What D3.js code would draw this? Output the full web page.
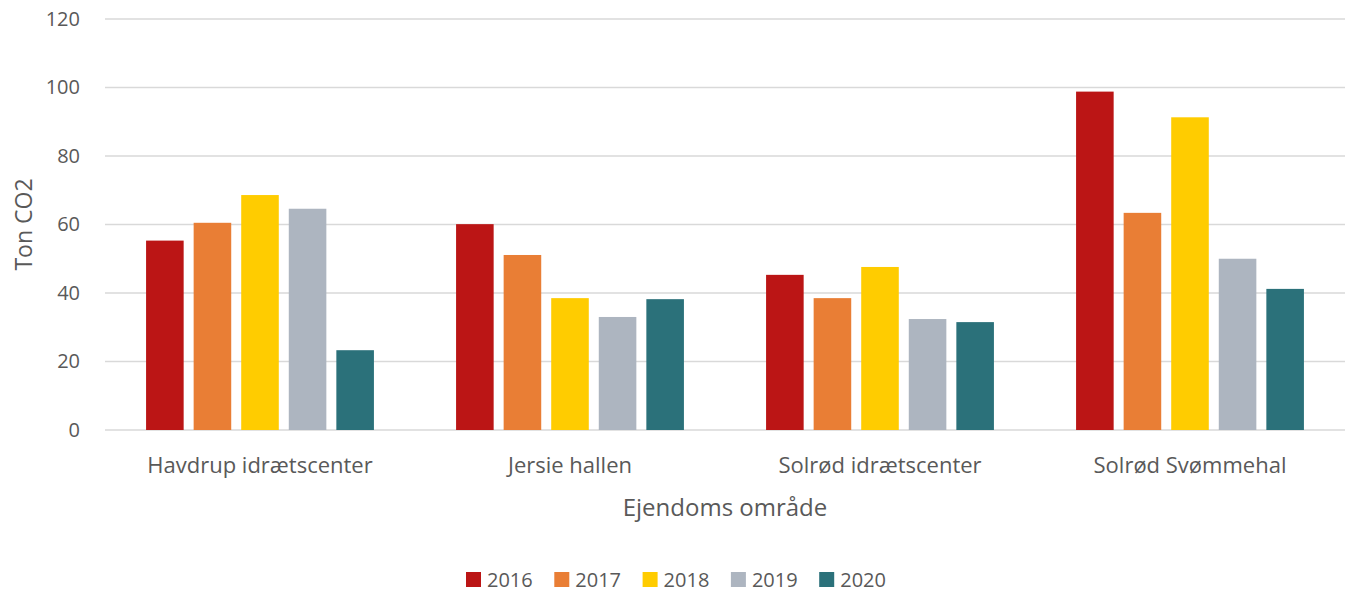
<!DOCTYPE html>
<html>
<head>
<meta charset="utf-8">
<script src="https://cdn.jsdelivr.net/npm/d3@7"></script>
<style>
  body { margin: 0; background: #fff; }
  text { font-family: "Open Sans", "Noto Sans", sans-serif; fill: #595959; }
</style>
</head>
<body>
<div id="chart"></div>
<script>
// Data
var categories = ["Havdrup idrætscenter", "Jersie hallen", "Solrød idrætscenter", "Solrød Svømmehal"];
var years = ["2016", "2017", "2018", "2019", "2020"];
var v2016 = [55.3, 60.1, 45.3, 98.8];
var v2017 = [60.5, 51.1, 38.5, 63.4];
var v2018 = [68.6, 38.5, 47.6, 91.3];
var v2019 = [64.6, 33.0, 32.4, 50.0];
var v2020 = [23.3, 38.2, 31.5, 41.2];
var yTicks = [0, 20, 40, 60, 80, 100, 120];
var colors = ["#bb1515", "#e97e35", "#ffcc00", "#adb5c0", "#2b717a"];

var series = [v2016, v2017, v2018, v2019, v2020];

// Set the dimensions and margins of the graph
var W = 1354, H = 593;
var margin = { top: 19, right: 9, bottom: 163, left: 105 },
  width = W - margin.left - margin.right,
  height = H - margin.top - margin.bottom;

var svg = d3.select("#chart")
  .append("svg")
  .attr("width", W)
  .attr("height", H);

var g = svg.append("g")
  .attr("transform", "translate(" + margin.left + "," + margin.top + ")");

// Scales
var x0 = d3.scaleBand()
  .domain(categories)
  .range([0, width])
  .paddingInner(0.265)
  .paddingOuter(0.1325);

var x1 = d3.scaleBand()
  .domain(years)
  .range([0, x0.bandwidth()])
  .paddingInner(0.21);

var y = d3.scaleLinear()
  .domain([0, 120])
  .range([height, 0]);

// Gridlines
g.selectAll(".grid")
  .data(yTicks)
  .enter()
  .append("line")
  .attr("x1", 0)
  .attr("x2", width)
  .attr("y1", function (d) { return y(d); })
  .attr("y2", function (d) { return y(d); })
  .attr("stroke", "#d9d9d9")
  .attr("stroke-width", 1.5);

// Y axis labels
var yAxis = g.append("g")
  .call(d3.axisLeft(y).tickValues(yTicks).tickSize(0).tickPadding(25));
yAxis.select(".domain").remove();
yAxis.selectAll("text")
  .style("font-size", "20px")
  .attr("fill", "#595959");

// Bars
var groups = g.selectAll(".cat")
  .data(categories)
  .enter()
  .append("g")
  .attr("transform", function (d) { return "translate(" + x0(d) + ",0)"; });

groups.selectAll("rect")
  .data(function (d, i) {
    return years.map(function (yr, j) { return { year: yr, value: series[j][i], idx: j }; });
  })
  .enter()
  .append("rect")
  .attr("x", function (d) { return x1(d.year); })
  .attr("y", function (d) { return y(d.value); })
  .attr("width", x1.bandwidth())
  .attr("height", function (d) { return height - y(d.value); })
  .attr("fill", function (d) { return colors[d.idx]; });

// X axis labels
var xAxis = g.append("g")
  .attr("transform", "translate(0," + height + ")")
  .call(d3.axisBottom(x0).tickSize(0).tickPadding(27));
xAxis.select(".domain").remove();
xAxis.selectAll("text")
  .style("font-size", "22px")
  .attr("fill", "#595959");

// Axis titles
svg.append("text")
  .attr("x", margin.left + width / 2)
  .attr("y", 516)
  .attr("text-anchor", "middle")
  .style("font-size", "24px")
  .text("Ejendoms område");

svg.append("text")
  .attr("transform", "translate(32," + (margin.top + height / 2) + ") rotate(-90)")
  .attr("text-anchor", "middle")
  .style("font-size", "23px")
  .text("Ton CO2");

// Legend
var legend = svg.append("g")
  .attr("transform", "translate(466,572)");

var items = legend.selectAll(".item")
  .data(years)
  .enter()
  .append("g")
  .attr("transform", function (d, i) { return "translate(" + (i * 88.3) + ",0)"; });

items.append("rect")
  .attr("width", 15)
  .attr("height", 15)
  .attr("fill", function (d, i) { return colors[i]; });

items.append("text")
  .attr("x", 21)
  .attr("y", 15)
  .style("font-size", "20px")
  .text(function (d) { return d; });
</script>
</body>
</html>
